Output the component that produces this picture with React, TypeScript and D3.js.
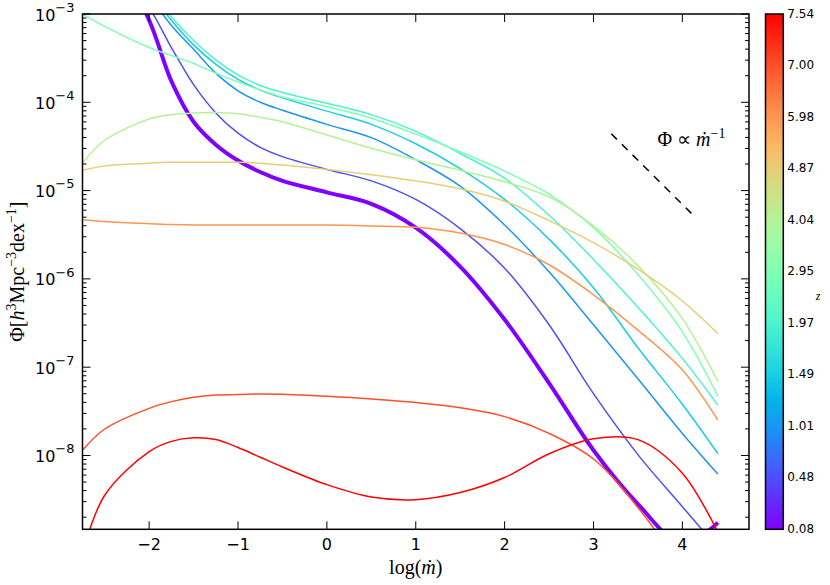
import React from "react";
import * as d3 from "d3";

// log(mdot) sample grid shared by all curves
const logMdot = [-2.75, -2.5, -2, -1.75, -1.5, -1.25, -1, -0.75, -0.5, 0, 0.5, 1, 1.5, 2, 2.5, 3, 3.5, 4, 4.4];

// redshift labels of the colour bar (one curve per label)
const zLabels = ["0.08", "0.48", "1.01", "1.49", "1.97", "2.95", "4.04", "4.87", "5.98", "7.00", "7.54"];

// log10 Phi for each redshift
const phiZ008 = [-1.6, -2.1, -3.07, -3.76, -4.22, -4.48, -4.66, -4.79, -4.89, -5.02, -5.15, -5.42, -5.86, -6.46, -7.18, -7.94, -8.55, -9.0, -8.76];
const phiZ048 = [-1.9, -2.3, -2.93, -3.38, -3.8, -4.12, -4.35, -4.51, -4.615, -4.76, -4.89, -5.1, -5.43, -5.88, -6.52, -7.3, -7.99, -8.58, -9.05];
const phiZ101 = [-1.9, -2.25, -2.8, -3.13, -3.4, -3.67, -3.87, -4.0, -4.09, -4.25, -4.4, -4.65, -4.95, -5.39, -5.92, -6.52, -7.13, -7.75, -8.21];
const phiZ149 = [-1.9, -2.2, -2.75, -3.07, -3.35, -3.57, -3.74, -3.86, -3.95, -4.1, -4.25, -4.47, -4.75, -5.1, -5.55, -6.1, -6.78, -7.42, -7.98];
const phiZ197 = [-1.9, -2.2, -2.7, -3.03, -3.3, -3.52, -3.69, -3.81, -3.89, -4.01, -4.14, -4.33, -4.58, -4.86, -5.28, -5.78, -6.32, -6.9, -7.43];
const phiZ295 = [-3.0, -3.14, -3.38, -3.47, -3.56, -3.67, -3.77, -3.86, -3.94, -4.05, -4.18, -4.36, -4.56, -4.78, -5.04, -5.42, -5.95, -6.6, -7.33];
const phiZ404 = [-4.69, -4.43, -4.19, -4.14, -4.12, -4.115, -4.13, -4.17, -4.22, -4.37, -4.52, -4.65, -4.77, -4.9, -5.07, -5.4, -5.85, -6.45, -7.16];
const phiZ487 = [-4.77, -4.72, -4.69, -4.68, -4.68, -4.68, -4.68, -4.69, -4.71, -4.76, -4.82, -4.89, -4.98, -5.12, -5.34, -5.59, -5.89, -6.25, -6.62];
const phiZ598 = [-5.33, -5.35, -5.375, -5.385, -5.39, -5.39, -5.39, -5.39, -5.39, -5.39, -5.4, -5.415, -5.48, -5.61, -5.84, -6.18, -6.58, -7.03, -7.6];
const phiZ700 = [-7.94, -7.7, -7.466, -7.39, -7.34, -7.315, -7.31, -7.303, -7.307, -7.33, -7.36, -7.4, -7.46, -7.56, -7.75, -8.04, -8.59, -9.3, -10.0];
const phiZ754 = [-9.1, -8.45, -7.957, -7.84, -7.8, -7.82, -7.91, -8.02, -8.13, -8.33, -8.47, -8.5, -8.42, -8.25, -7.98, -7.81, -7.82, -8.2, -8.87];

const seriesList = [phiZ008, phiZ048, phiZ101, phiZ149, phiZ197, phiZ295, phiZ404, phiZ487, phiZ598, phiZ700, phiZ754];

// Phi ∝ mdot^-1 guide
const guideLogMdot = [3.2, 4.13];
const guideLogPhi = [-4.356, -5.286];

const xTicks = [-2, -1, 0, 1, 2, 3, 4];
const yDecades = [-8, -7, -6, -5, -4, -3];

// matplotlib "rainbow" colormap
function rainbow(t: number): string {
  const c = (v: number) => Math.round(Math.max(0, Math.min(1, v)) * 255);
  const r = Math.abs(2 * t - 0.5);
  const g = Math.sin(Math.PI * t);
  const b = Math.cos((Math.PI * t) / 2);
  return `rgb(${c(r)},${c(g)},${c(b)})`;
}

const W = 830;
const H = 585;
const L = 82.5;
const R = 749;
const T = 14;
const B = 529.3;
const CB_L = 765.5;
const CB_R = 783.3;

export default function App() {
  const x = d3.scaleLinear().domain([-2.75, 4.75]).range([L, R]);
  const y = d3.scaleLog().domain([Math.pow(10, -8.836), 1e-3]).range([B, T]);
  const cb = d3.scaleLinear().domain([0, zLabels.length - 1]).range([B, T]);

  const line = d3
    .line<number>()
    .x((_, j) => x(logMdot[j]))
    .y((v) => y(Math.pow(10, v)))
    .curve(d3.curveCatmullRom.alpha(0.5));

  const minor: number[] = [];
  for (let k = -9; k <= -4; k++) {
    for (let m = 2; m <= 9; m++) {
      const v = m * Math.pow(10, k);
      const lv = Math.log10(v);
      if (lv > -8.836 && lv < -3) minor.push(v);
    }
  }

  const stops = d3.range(0, 1.0001, 0.05);
  const sans = "DejaVu Sans, sans-serif";
  const serif = "Liberation Serif, Times New Roman, serif";

  return (
    <svg
      width={W}
      height={H}
      style={{ position: "absolute", left: 0, top: 0, background: "#fff" }}
    >
      <defs>
        <clipPath id="plotclip">
          <rect x={L} y={T} width={R - L} height={B - T} />
        </clipPath>
        <linearGradient id="cbgrad" x1="0" y1="1" x2="0" y2="0">
          {stops.map((s) => (
            <stop key={s} offset={s} stopColor={rainbow(s)} />
          ))}
        </linearGradient>
      </defs>

      <g clipPath="url(#plotclip)">
        {seriesList.map((s, i) => (
          <path
            key={i}
            d={line(s) || ""}
            fill="none"
            stroke={rainbow(i / (seriesList.length - 1))}
            strokeWidth={i === 0 ? 4 : 1.5}
          />
        ))}
      </g>

      {/* power-law guide */}
      <line
        x1={x(guideLogMdot[0])}
        y1={y(Math.pow(10, guideLogPhi[0]))}
        x2={x(guideLogMdot[1])}
        y2={y(Math.pow(10, guideLogPhi[1]))}
        stroke="#000"
        strokeWidth={1.5}
        strokeDasharray="8,7"
      />
      <text x={x(3.72)} y={y(Math.pow(10, -4.5))} fontFamily={serif} fontSize={20}>
        Φ ∝ <tspan fontStyle="italic">ṁ</tspan>
        <tspan dy={-8} fontSize={14}>−1</tspan>
      </text>

      {/* x ticks */}
      {xTicks.map((t) => (
        <g key={t}>
          <line x1={x(t)} x2={x(t)} y1={B} y2={B - 8} stroke="#000" strokeWidth={1} />
          <line x1={x(t)} x2={x(t)} y1={T} y2={T + 8} stroke="#000" strokeWidth={1} />
          <text x={x(t)} y={B + 21} textAnchor="middle" fontFamily={sans} fontSize={16}>
            {t < 0 ? `−${Math.abs(t)}` : `${t}`}
          </text>
        </g>
      ))}

      {/* y ticks */}
      {yDecades.map((k) => {
        const py = y(Math.pow(10, k));
        return (
          <g key={k}>
            <line x1={L} x2={L + 8} y1={py} y2={py} stroke="#000" strokeWidth={1} />
            <line x1={R} x2={R - 8} y1={py} y2={py} stroke="#000" strokeWidth={1} />
            <text x={L - 8} y={py + 6.5} textAnchor="end" fontFamily={sans} fontSize={16}>
              <tspan>10</tspan>
              <tspan dy={-8.8} fontSize={13}>{`−${Math.abs(k)}`}</tspan>
            </text>
          </g>
        );
      })}
      {minor.map((v, i) => (
        <g key={i}>
          <line x1={L} x2={L + 4} y1={y(v)} y2={y(v)} stroke="#000" strokeWidth={1} />
          <line x1={R} x2={R - 4} y1={y(v)} y2={y(v)} stroke="#000" strokeWidth={1} />
        </g>
      ))}

      {/* frame */}
      <rect x={L} y={T} width={R - L} height={B - T} fill="none" stroke="#000" strokeWidth={1.5} />

      {/* axis labels */}
      <text x={(L + R) / 2} y={574} textAnchor="middle" fontFamily={serif} fontSize={20}>
        log(<tspan fontStyle="italic">ṁ</tspan>)
      </text>
      <text
        transform={`translate(24,${(T + B) / 2}) rotate(-90)`}
        textAnchor="middle"
        fontFamily={serif}
        fontSize={20}
      >
        Φ[<tspan fontStyle="italic">h</tspan>
        <tspan dy={-8} fontSize={14}>3</tspan>
        <tspan dy={8}>Mpc</tspan>
        <tspan dy={-8} fontSize={14}>−3</tspan>
        <tspan dy={8}>dex</tspan>
        <tspan dy={-8} fontSize={14}>−1</tspan>
        <tspan dy={8}>]</tspan>
      </text>

      {/* colour bar */}
      <rect x={CB_L} y={T} width={CB_R - CB_L} height={B - T} fill="url(#cbgrad)" stroke="#000" strokeWidth={1.5} />
      {zLabels.map((lab, i) => (
        <text key={lab} x={CB_R + 4} y={cb(i) + 3.5} fontFamily={sans} fontSize={12}>
          {lab}
        </text>
      ))}
      <text x={818} y={300} fontFamily={serif} fontStyle="italic" fontSize={12} textAnchor="middle">
        z
      </text>
    </svg>
  );
}
